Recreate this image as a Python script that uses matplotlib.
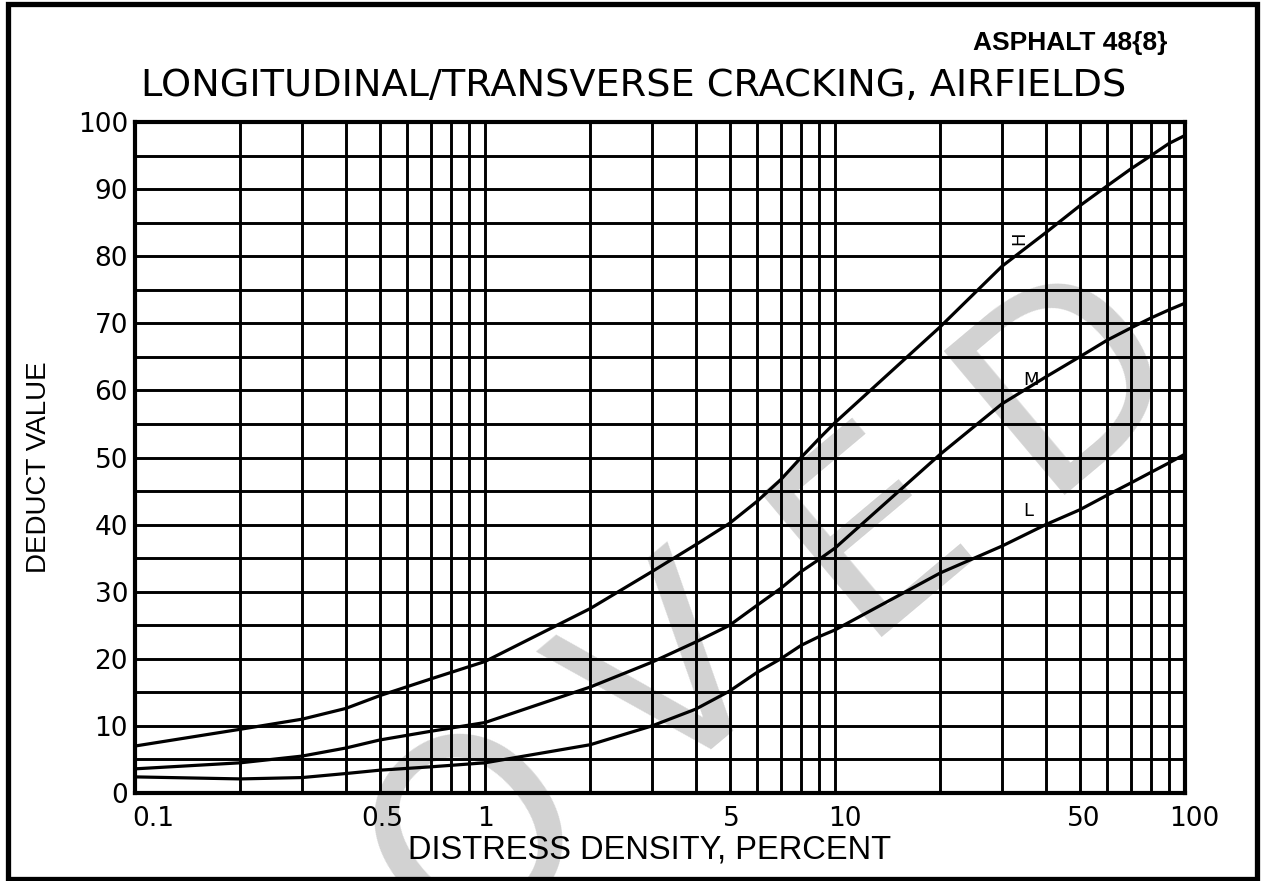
import matplotlib
matplotlib.use("Agg")
import matplotlib.pyplot as plt
from matplotlib.ticker import LogLocator, MultipleLocator, NullFormatter
from matplotlib.patches import Rectangle
import matplotlib.transforms as mtrans

# ---------------- data ----------------
density = [0.1, 0.2, 0.3, 0.4, 0.5, 0.7, 1, 2, 3, 4, 5, 6, 7, 8, 9, 10,
           20, 30, 40, 50, 60, 70, 80, 90, 100]
deduct_high = [7.0, 9.5, 11.0, 12.6, 14.5, 17.0, 19.6, 27.5, 33.0, 37.0, 40.2,
               43.5, 46.7, 50.0, 52.8, 55.2, 69.5, 78.5, 83.5, 87.5, 90.5,
               93.0, 95.0, 96.8, 98.0]
deduct_medium = [3.6, 4.5, 5.5, 6.7, 7.9, 9.2, 10.5, 15.8, 19.5, 22.5, 25.0,
                 28.0, 30.5, 33.0, 34.8, 36.5, 50.5, 58.0, 62.0, 65.0, 67.5,
                 69.3, 70.8, 72.0, 73.0]
deduct_low = [2.4, 2.1, 2.3, 2.9, 3.4, 3.9, 4.5, 7.2, 10.0, 12.5, 15.2, 18.0,
              20.0, 22.0, 23.3, 24.3, 32.8, 36.8, 40.0, 42.2, 44.4, 46.2,
              47.8, 49.2, 50.5]

severity_labels = ["H", "M", "L"]
severity_label_x = [33.6, 36.3, 35.6]
severity_label_y = [82.7, 61.5, 42.0]

xtick_values = [0.1, 0.5, 1, 5, 10, 50, 100]
xtick_labels = ["0.1", "0.5", "1", "5", "10", "50", "100"]
ytick_values = [0, 10, 20, 30, 40, 50, 60, 70, 80, 90, 100]
ytick_labels = ["0", "10", "20", "30", "40", "50", "60", "70", "80", "90", "100"]

title_text = "LONGITUDINAL/TRANSVERSE CRACKING, AIRFIELDS"
corner_text = "ASPHALT 48{8}"
xlabel_text = "DISTRESS DENSITY, PERCENT"
ylabel_text = "DEDUCT VALUE"
watermark_letters = ["O", "V", "E", "D"]

# ---------------- styling / layout ----------------
W, H = 1263, 881
fig = plt.figure(figsize=(W / 100, H / 100), dpi=100)
fig.patch.set_facecolor("white")

def fx(px):
    return px / W

def fy(py):
    return 1 - py / H

# outer frame
fig.patches.append(Rectangle((fx(8), fy(879)), fx(1257) - fx(8), fy(4) - fy(879),
                             transform=fig.transFigure, fill=False,
                             edgecolor="black", linewidth=3.8, zorder=5))

ax = fig.add_axes([fx(135), fy(793), fx(1185) - fx(135), fy(122) - fy(793)])
ax.set_facecolor("none")
ax.set_xscale("log")
ax.set_xlim(0.1, 100)
ax.set_ylim(0, 100)

# watermark (light grey, beneath the grid lines)
wm_start = (480, 838)
wm_end = (1070, 377)
n = len(watermark_letters)
for i, ch in enumerate(watermark_letters):
    t = i / (n - 1)
    px = wm_start[0] + (wm_end[0] - wm_start[0]) * t
    py = wm_start[1] + (wm_end[1] - wm_start[1]) * t
    ax.text(fx(px), fy(py), ch, transform=fig.transFigure, rotation=40,
            rotation_mode="anchor", ha="center", va="center", fontsize=185,
            color="#d2d2d2", family="DejaVu Sans", zorder=0.1, clip_on=False)

# grid
ax.xaxis.set_minor_locator(LogLocator(base=10, subs=[1, 2, 3, 4, 5, 6, 7, 8, 9], numticks=20))
ax.xaxis.set_minor_formatter(NullFormatter())
ax.yaxis.set_minor_locator(MultipleLocator(5))
ax.set_axisbelow(True)
ax.grid(which="both", color="black", linewidth=2.1)

for s in ax.spines.values():
    s.set_linewidth(3.0)
    s.set_color("black")

ax.tick_params(which="both", length=0)
ax.set_xticks(xtick_values, xtick_labels)
ax.set_yticks(ytick_values, ytick_labels)
ax.tick_params(axis="x", pad=9, labelsize=19)
ax.tick_params(axis="y", pad=5, labelsize=19)

# small horizontal nudges for some x tick labels (points)
x_nudges = [13, 2, 0, 1, 7, 3, 7]
for lab, dx in zip(ax.get_xticklabels(), x_nudges):
    lab.set_transform(lab.get_transform() +
                      mtrans.ScaledTranslation(dx / 72, 0, fig.dpi_scale_trans))

# curves
for series in (deduct_high, deduct_medium, deduct_low):
    ax.plot(density, series, color="black", linewidth=2.3, zorder=3,
            solid_capstyle="butt", solid_joinstyle="round")

label_rot = [90, 0, 0]
for lab, x, y, r in zip(severity_labels, severity_label_x, severity_label_y, label_rot):
    ax.text(x, y, lab, ha="center", va="center", fontsize=13, rotation=r,
            family="DejaVu Sans", zorder=4)

# texts
fig.text(fx(634), fy(86), title_text, ha="center", va="center", fontsize=27.5,
         family="DejaVu Sans")
fig.text(fx(1070), fy(43), corner_text, ha="center", va="center", fontsize=19,
         fontweight="bold", family=["Liberation Sans", "DejaVu Sans"])
fig.text(fx(650), fy(850), xlabel_text, ha="center", va="center", fontsize=23.5,
         family=["Liberation Sans", "DejaVu Sans"])
fig.text(fx(39), fy(467), ylabel_text, ha="center", va="center", fontsize=20,
         rotation=90, family=["Liberation Sans", "DejaVu Sans"])

fig.savefig("out.png", dpi=100, facecolor="white")
